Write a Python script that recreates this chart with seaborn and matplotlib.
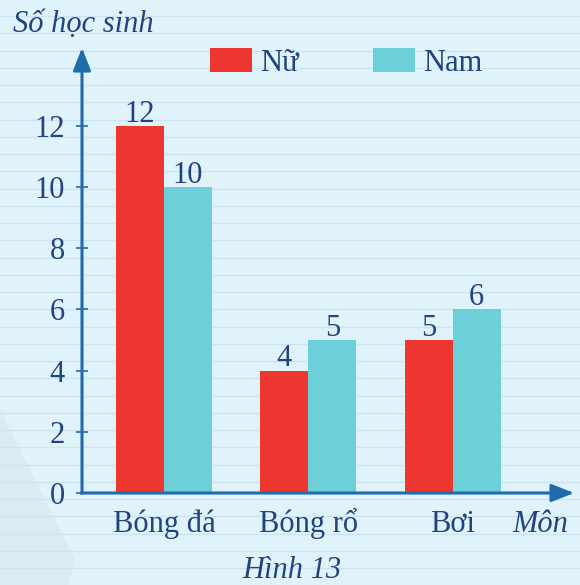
import numpy as np
import pandas as pd
import seaborn as sns
import matplotlib.pyplot as plt
from matplotlib.patches import Polygon


# ----------------------------------------
# DATA
# ----------------------------------------

mon = ["Bóng đá", "Bóng rổ", "Bơi"]
nu = [12, 4, 5]
nam = [10, 5, 6]
gioi = ["Nữ", "Nam"]
y_ticks = [0, 2, 4, 6, 8, 10, 12]

RED = "#EE3631"
CYAN = "#6DCFDA"
AXIS = "#1E6BAE"
TEXT = "#21437F"
BG = "#E0F3FB"
LINE = "#C9E5F0"

df = pd.DataFrame({
    "mon": mon * 2,
    "so": nu + nam,
    "gioi": [gioi[0]] * len(mon) + [gioi[1]] * len(mon),
})

sns.set_style("white")
plt.rcParams["font.family"] = ["Liberation Serif", "DejaVu Serif"]

fig = plt.figure(figsize=(5.8, 5.85), dpi=100, facecolor=BG)

# ----------------------------------------
# RULED PAPER BACKGROUND
# ----------------------------------------

bg = fig.add_axes([0, 0, 1, 1], zorder=-1)
bg.set_xlim(0, 580)
bg.set_ylim(585, 0)
bg.axis("off")
for yy in np.arange(16, 585, 17.25):
    bg.axhline(yy, color=LINE, lw=1.0)
bg.add_patch(Polygon([(0, 410), (75, 560), (68, 585), (0, 585)],
                     closed=True, color="#D3DEE4", alpha=0.35, lw=0))

# ----------------------------------------
# BARS
# ----------------------------------------

ax = fig.add_axes([82 / 580, 92 / 585, 492 / 580, 445 / 585])
ax.patch.set_alpha(0)
sns.barplot(data=df, x="mon", y="so", hue="gioi", palette=[RED, CYAN],
            width=0.665, saturation=1, linewidth=0, ax=ax)

for c in ax.containers:
    ax.bar_label(c, fontsize=22, color=TEXT, padding=-2)

ax.set_xlim(-0.568, 2.841)
ax.set_ylim(0, 14.55)
ax.set_yticks(y_ticks)
ax.set_xlabel("")
ax.set_ylabel("")
ax.tick_params(axis="y", left=True, direction="inout", length=9, width=1.2,
               color=AXIS, labelsize=22, labelcolor=TEXT, pad=8)
ax.tick_params(axis="x", length=0, labelsize=22, labelcolor=TEXT, pad=28)
for lbl in ax.get_xticklabels():
    lbl.set_verticalalignment("baseline")
for s in ax.spines.values():
    s.set_visible(False)

# axes with arrow heads
arrow = dict(arrowstyle="-|>,head_length=0.68,head_width=0.27", color=AXIS,
             lw=2.2, shrinkA=0, shrinkB=0, mutation_scale=20, capstyle="projecting")
ax.annotate("", xy=(0, 1), xytext=(0, 0), xycoords="axes fraction",
            arrowprops=arrow, annotation_clip=False)
ax.annotate("", xy=(1, 0), xytext=(0, 0), xycoords="axes fraction",
            arrowprops=arrow, annotation_clip=False)

# legend
handles, labels = ax.get_legend_handles_labels()
ax.legend(handles, labels, loc="upper left", bbox_to_anchor=(210 / 580, 1 - 48 / 585),
          bbox_transform=fig.transFigure, ncol=2, frameon=False, borderpad=0,
          borderaxespad=0, fontsize=22, labelcolor=TEXT, handlelength=1.37,
          handleheight=0.85, handletextpad=0.26, columnspacing=2.45)

# ----------------------------------------
# TEXTS
# ----------------------------------------

fig.text(13 / 580, 1 - 32 / 585, "Số học sinh", style="italic", fontsize=22,
         color=TEXT, ha="left", va="baseline")
fig.text(540 / 580, 1 - 532 / 585, "Môn", style="italic", fontsize=22,
         color=TEXT, ha="center", va="baseline")
fig.text(292 / 580, 1 - 578 / 585, "Hình 13", style="italic", fontsize=22,
         color=TEXT, ha="center", va="baseline")

fig.savefig("out.png", dpi=100, facecolor=BG)
